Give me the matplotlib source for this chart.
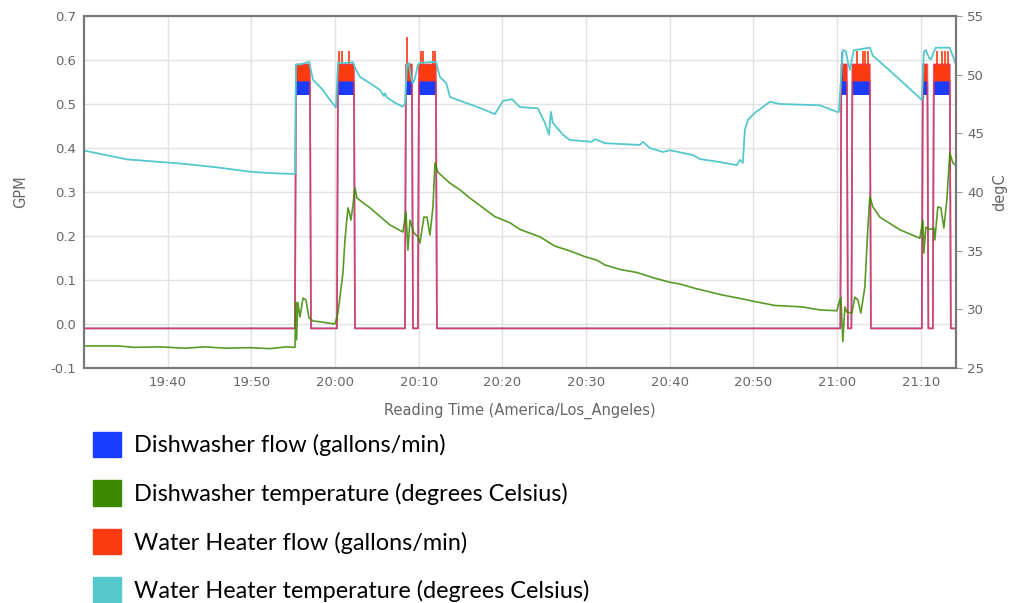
import numpy as np
import matplotlib.pyplot as plt
from matplotlib.patches import Patch

# time axis: minutes after 19:30
tick_pos = [10, 20, 30, 40, 50, 60, 70, 80, 90, 100]
tick_labels = ["19:40", "19:50", "20:00", "20:10", "20:20",
               "20:30", "20:40", "20:50", "21:00", "21:10"]

# water heater temperature (degC)
wh_temp_t = [0, 5.14, 11.95, 15.89, 19.83, 21.51, 23.18, 25.21, 25.33, 26.0, 26.9,
             27.36, 28.55, 29.39, 29.87, 30.11, 30.35, 31.2, 32.14, 32.5, 33.0, 34.2,
             35.36, 35.84, 35.96, 36.2, 37.16, 38.1, 38.35, 38.59, 38.83, 39.07, 39.3,
             39.55, 39.9, 40.14, 42.05, 42.53, 43.3, 43.73, 47.31, 49.1, 50.06, 51.14,
             52.09, 54.24, 55.08, 55.56, 55.79, 56.03, 57.23, 58.06, 60.69, 61.05,
             62.25, 66.43, 66.79, 67.62, 69.18, 70.01, 72.76, 73.6, 75.99, 78.02,
             78.38, 78.73, 78.97, 79.33, 80.17, 81.96, 83.15, 87.93, 89.96, 90.2,
             90.68, 91.04, 91.28, 91.52, 91.76, 92.0, 93.91, 94.27, 95.1, 97.5, 99.28,
             100.12, 100.36, 100.6, 100.96, 101.2, 101.55, 101.79, 103.46, 103.82, 104.18]
wh_temp = [43.53, 42.78, 42.40, 42.10, 41.73, 41.65, 41.58, 41.54, 50.84, 50.9, 51.1,
           49.56, 48.7, 47.84, 47.42, 47.2, 51.0, 51.0, 51.06, 50.4, 49.8, 49.26,
           48.7, 48.18, 48.4, 48.06, 47.6, 47.27, 47.5, 50.84, 51.0, 49.8, 49.26,
           49.7, 50.84, 51.0, 51.1, 49.8, 49.26, 48.1, 47.16, 46.64, 47.76, 47.91,
           47.24, 47.13, 45.89, 44.88, 46.83, 45.89, 44.88, 44.43, 44.28, 44.5,
           44.16, 44.01, 44.28, 43.75, 43.41, 43.56, 43.15, 42.81, 42.55, 42.29,
           42.74, 42.48, 45.29, 46.15, 46.75, 47.69, 47.5, 47.39, 46.83, 46.83,
           52.09, 52.0, 51.1, 50.4, 51.3, 52.09, 52.3, 51.61, 51.1, 49.56, 48.4,
           47.84, 51.94, 52.1, 51.45, 51.3, 51.94, 52.3, 52.3, 51.61, 50.9]

# dishwasher temperature (degC)
dw_temp_t = [0, 4.06, 6.09, 9.08, 12.07, 14.46, 16.85, 19.83, 22.22, 24.13, 25.21,
             25.3, 25.4, 25.55, 25.81, 26.17, 26.52, 26.88, 27.36, 28.2, 29.99, 30.35,
             30.94, 31.18, 31.54, 31.78, 31.9, 32.14, 32.38, 32.62, 34.17, 36.56,
             38.11, 38.47, 38.71, 38.95, 39.43, 39.9, 40.14, 40.62, 40.98, 41.34,
             41.7, 41.94, 42.29, 43.73, 44.92, 46.12, 49.1, 50.9, 52.09, 54.48, 56.27,
             58.06, 59.86, 61.29, 62.25, 64.04, 66.07, 68.22, 70.01, 71.21, 73.0,
             76.22, 78.38, 80.17, 82.56, 85.78, 87.93, 89.96, 90.32, 90.44, 90.68,
             90.92, 91.16, 91.76, 92.11, 92.47, 92.83, 93.31, 93.67, 93.91, 94.27,
             95.1, 97.49, 99.88, 100.24, 100.36, 100.6, 101.08, 101.55, 101.67,
             102.03, 102.39, 102.75, 103.11, 103.46, 103.82, 104.18]
dw_temp = [26.88, 26.88, 26.76, 26.8, 26.69, 26.8, 26.69, 26.73, 26.65, 26.8, 26.76,
           30.6, 27.4, 30.6, 29.35, 30.96, 30.81, 29.28, 29.01, 28.94, 28.75, 29.69,
           33.1, 35.88, 38.65, 38.05, 37.6, 38.88, 40.34, 39.48, 38.65, 37.19,
           36.59, 38.31, 35.05, 37.6, 36.51, 36.18, 35.65, 37.86, 37.86, 36.33,
           38.73, 42.48, 41.69, 40.75, 40.19, 39.48, 37.9, 37.38, 36.81, 36.18, 35.39,
           34.98, 34.49, 34.19, 33.78, 33.4, 33.14, 32.65, 32.31, 32.16, 31.79,
           31.23, 30.93, 30.66, 30.33, 30.21, 29.95, 29.88, 30.81, 31.0, 27.25,
           30.21, 29.76, 29.69, 31.04, 30.81, 29.69, 31.9, 37.0, 39.59, 38.73,
           37.86, 36.78, 36.06, 37.6, 34.79, 37.0, 36.81, 36.93, 35.91,
           38.73, 38.65, 36.93, 39.33, 43.34, 42.48, 42.25]

# flow pulses (GPM), on/off minutes
flow_on = [25.33, 30.35, 38.47, 40.02, 90.5, 91.82, 100.24, 101.55]
flow_off = [27.0, 32.26, 39.19, 42.05, 91.16, 93.91, 100.78, 103.46]
flow_base = -0.01
dw_lo, dw_hi = 0.52, 0.55
wh_lo, wh_hi = 0.55, 0.59

wh_spike_t = [30.47, 30.82, 31.66, 38.57, 40.26, 40.5, 41.7, 41.94, 92.35, 93.07,
              93.31, 93.67, 101.91, 102.51, 102.87, 103.23]
wh_spike_v = [0.62, 0.62, 0.62, 0.652, 0.62, 0.62, 0.62, 0.62, 0.62, 0.62,
              0.62, 0.62, 0.62, 0.62, 0.62, 0.62]
dw_spike_t = [90.56]
dw_spike_v = [0.618]

c_dw = '#1a3cff'
c_dwt = '#3a8a00'
c_wh = '#fb3a10'
c_wht = '#55c8cc'
ramp = 0.12


def pulse_line(on, off, top):
    xs, ys = [0], [flow_base]
    for a, b in zip(on, off):
        xs += [a - ramp, a, b, b + ramp]
        ys += [flow_base, top, top, flow_base]
    xs.append(104.2)
    ys.append(flow_base)
    return xs, ys


fig = plt.figure(figsize=(10.09, 6.03), dpi=100)
ax = fig.add_axes([84 / 1009, 1 - 368 / 603, 872 / 1009, 352 / 603])
ax2 = ax.twinx()

xs, ys = pulse_line(flow_on, flow_off, dw_hi)
ax.plot(xs, ys, color=c_dw, lw=1.2, alpha=0.7)
xs, ys = pulse_line(flow_on, flow_off, wh_hi)
ax.plot(xs, ys, color='#f03848', lw=1.2, alpha=0.85)
for a, b in zip(flow_on, flow_off):
    ax.fill_between([a, b], dw_lo, dw_hi, color=c_dw, lw=0)
    ax.fill_between([a, b], wh_lo, wh_hi, color=c_wh, lw=0)
ax.vlines(wh_spike_t, wh_hi, wh_spike_v, color=c_wh, lw=1.2)
ax.vlines(dw_spike_t, dw_hi, dw_spike_v, color=c_dw, lw=1.2, alpha=0.7)

ax2.plot(wh_temp_t, wh_temp, color=c_wht, lw=1.3)
ax2.plot(dw_temp_t, dw_temp, color=c_dwt, lw=1.2, alpha=0.85)

ax.set_xlim(0, 104.2)
ax.set_ylim(-0.1, 0.7)
ax2.set_ylim(25, 55)
ax.set_yticks(np.arange(-0.1, 0.71, 0.1))
ax.set_yticklabels([f"{v:.1f}" for v in np.arange(-0.1, 0.71, 0.1)])
ax2.set_yticks(range(25, 56, 5))
ax.set_xticks(tick_pos)
ax.set_xticklabels(tick_labels)

ax.grid(True, color='#e2e2e2', lw=1)
ax.set_axisbelow(True)
for a in (ax, ax2):
    for s in a.spines.values():
        s.set_color('#777777')
        s.set_linewidth(1.5)
ax.tick_params(axis='both', length=0, colors='#666666', labelsize=9.5, pad=6)
ax2.tick_params(axis='y', length=4, color='#999999', colors='#666666',
                labelsize=9.5, pad=4)

ax.set_xlabel("Reading Time (America/Los_Angeles)", color='#666666', fontsize=10.5,
              labelpad=10)
ax.set_ylabel("GPM", color='#666666', fontsize=10.5, labelpad=16)
ax2.set_ylabel("degC", color='#666666', fontsize=10.5, labelpad=6, rotation=90)

handles = [Patch(color=c_dw), Patch(color=c_dwt), Patch(color=c_wh), Patch(color=c_wht)]
labels = ["Dishwasher flow (gallons/min)", "Dishwasher temperature (degrees Celsius)",
          "Water Heater flow (gallons/min)", "Water Heater temperature (degrees Celsius)"]
fig.legend(handles, labels, loc='upper left', bbox_to_anchor=(81 / 1009, 1 - 420 / 603),
           frameon=False, prop={'family': 'Lato', 'size': 16.9}, handlelength=1.2,
           handleheight=1.3, labelspacing=0.98, handletextpad=0.55, borderpad=0)

fig.savefig("out.png", dpi=100)
